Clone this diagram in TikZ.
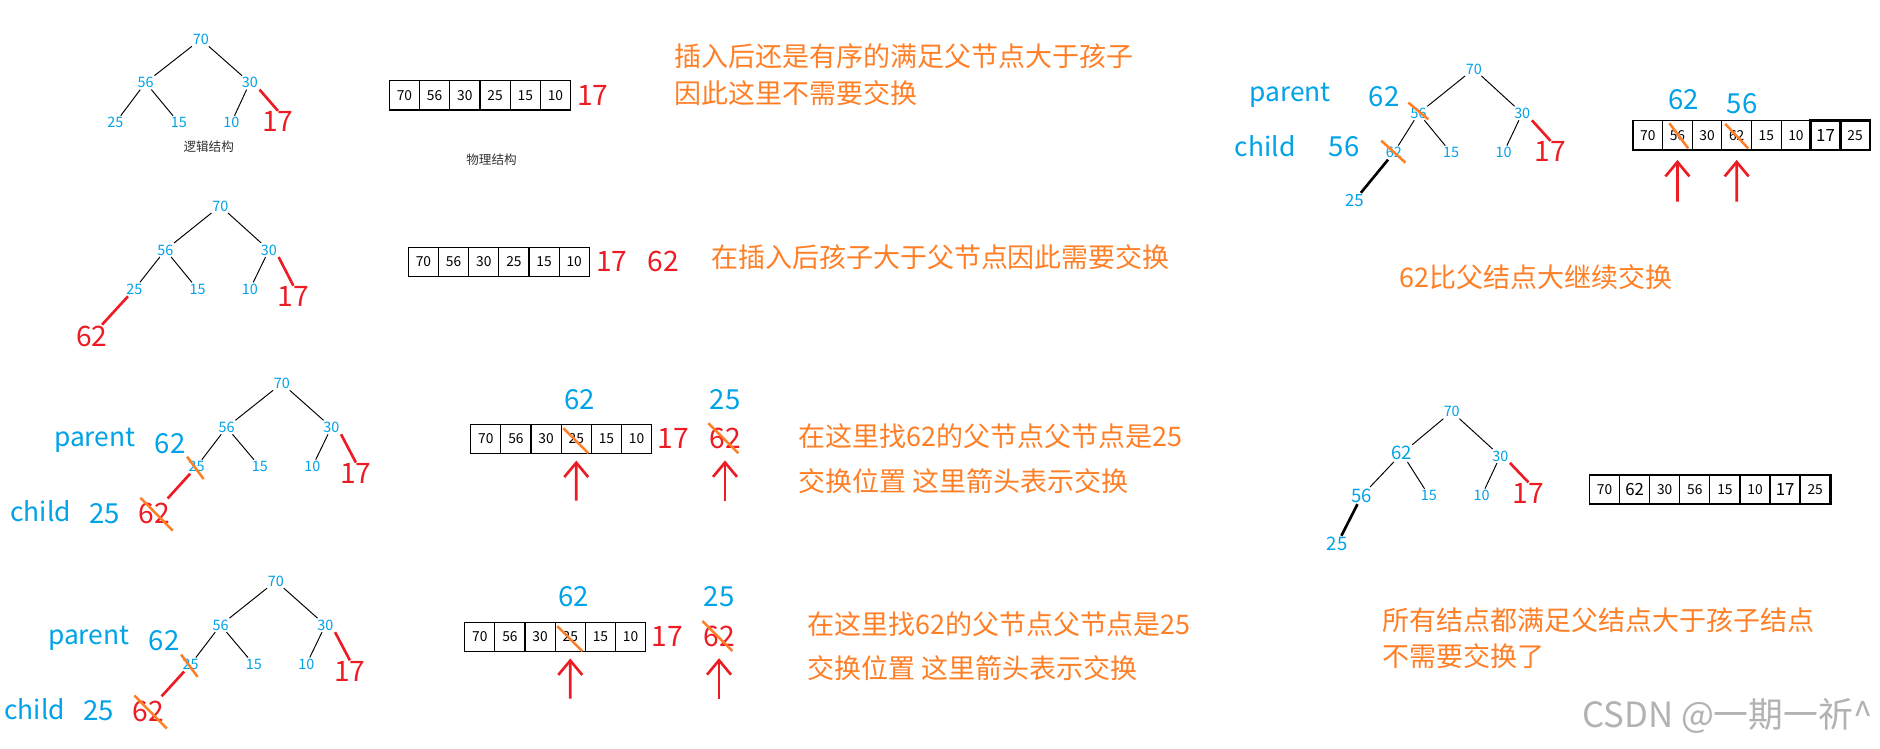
\documentclass[tikz,border=0pt]{standalone}
\usepackage{fontspec}
\setmainfont{Noto Sans CJK SC}
\usetikzlibrary{arrows.meta}
\definecolor{pblue}{HTML}{00A2E8}
\definecolor{pred}{HTML}{ED1C24}
\definecolor{porange}{HTML}{FF7F27}
\newcommand\fsz[1]{\fontsize{#1}{#1}\selectfont}
\newcommand\arrcells[6]{%
  \foreach \v [count=\i] in {#6}
    \node[cell,minimum width=#4pt,minimum height=#5pt] (#1\i) at ({#2+(\i-0.5)*#4},#3) {\v};}
\newcommand\swaprow[1]{%
  \node[tn] (#1a) at (235.1,319.7) {70};
  \node[tn] (#1b) at (189,356.4) {56};
  \node[tn] (#1c) at (276.4,356.4) {30};
  \node[tn] (#1d) at (163.9,389.2) {25};
  \node[tn] (#1e) at (216.7,389.2) {15};
  \node[tn] (#1f) at (260.5,389.2) {10};
  \node[rn] (#1g) at (296.8,394.8) {17};
  \draw[ln] (#1a)--(#1b) (#1a)--(#1c) (#1b)--(#1d) (#1b)--(#1e) (#1c)--(#1f);
  \draw[rln] (#1c.south east)--(#1g.north);
  \node[lab] (#1p) at (79.1,367.4) {parent};
  \node[bignum] (#1q) at (141.8,369.7) {62};
  \node[lab] (#1r) at (34,426.7) {child};
  \node[bignum] (#1s) at (87.4,428.1) {25};
  \node[rn] (#1h) at (128.6,428.1) {62};
  \draw[rln,shorten <=4pt] (#1h)--(#1d);
  \draw[strike] ([shift={(-7.9,-8.3)}]#1d.center)--([shift={(5.9,10.3)}]#1d.center);
  \draw[strike] ([shift={(-11.5,-13)}]#1h.center)--([shift={(15.5,14.5)}]#1h.center);
  \arrcells{#1A}{392.6}{366}{25.15}{24.2}{70,56,30,25,15,10}
  \draw[strike] ([shift={(-10.8,-8.8)}]#1A4.center)--([shift={(10.1,12.1)}]#1A4.center);
  \node[rn] (#1u) at (561.6,365.6) {17};
  \node[rn] (#1t) at (604.7,365.6) {62};
  \draw[strike] ([shift={(-13.9,-12.6)}]#1t.center)--([shift={(11.1,12.4)}]#1t.center);
  \node[bignum] (#1v) at (483.2,333) {62};
  \node[bignum] (#1w) at (604.7,333) {25};
  \coordinate (#1x) at (480.6,417.6);
  \coordinate (#1y) at (604.7,417.6);
  \draw[uparr,shorten >=5.6pt] (#1x)--(#1A4.south);
  \draw[uparr,shorten >=9pt] (#1y)--(#1t.south);
}
\begin{document}
\begin{tikzpicture}[x=1pt,y=-1pt,
  tn/.style={text=pblue,font=\fsz{12},inner sep=1.2pt},
  tnl/.style={text=pblue,font=\fsz{15.5},inner sep=1.2pt},
  rn/.style={text=pred,font=\fsz{23.5},inner sep=0.5pt},
  ln/.style={draw=black,line width=0.8pt},
  rln/.style={draw=pred,line width=2.2pt},
  bln/.style={draw=black,line width=2.2pt},
  cell/.style={draw=black,line width=1pt,inner sep=0pt,font=\fsz{11.5}},
  tcell/.style={draw=black,line width=2.2pt,inner sep=0pt,font=\fsz{11.5}},
  lab/.style={text=pblue,font=\fsz{22},inner sep=0pt},
  bignum/.style={text=pblue,font=\fsz{23},inner sep=0pt},
  note/.style={text=porange,font=\fsz{22.5},anchor=west,inner sep=0pt},
  strike/.style={draw=porange,line width=2.1pt},
  uparr/.style={draw=pred,line width=2.2pt,-{Straight Barb[length=12pt,width=20pt]}},
  capt/.style={text=black!80,font=\fsz{10.5},inner sep=0pt}
]
\fill[white] (0,0) rectangle (1568,624);
\useasboundingbox (0,0) rectangle (1568,624);

% ---------- Row 1 ----------
\node[tn] (a1) at (167.5,32.8) {70};
\node[tn] (a2) at (121.4,68.9) {56};
\node[tn] (a3) at (208.4,68.9) {30};
\node[tn] (a4) at (96.3,102.3) {25};
\node[tn] (a5) at (149.1,102.3) {15};
\node[tn] (a6) at (192.9,102.3) {10};
\node[rn] (a7) at (231.8,101.5) {17};
\draw[ln] (a1)--(a2) (a1)--(a3) (a2)--(a4) (a2)--(a5) (a3)--(a6);
\draw[rln] (a3.south east)--(a7.north);
\node[capt] (a8) at (174.1,122.3) {逻辑结构};
\arrcells{A}{324.7}{79.5}{25.2}{24.4}{70,56,30,25,15,10}
\node[rn] (a9) at (494.3,79.2) {17};
\node[capt] (a10) at (410,132.9) {物理结构};
\node[note] (a11) at (562.6,47.3) {插入后还是有序的满足父节点大于孩子};
\node[note] (a12) at (562.6,77.3) {因此这里不需要交换};

% ---------- Row 2 ----------
\node[tn] (d1) at (183.7,171.8) {70};
\node[tn] (d2) at (137.9,208.5) {56};
\node[tn] (d3) at (224.3,208.5) {30};
\node[tn] (d4) at (112.1,241.3) {25};
\node[tn] (d5) at (164.9,241.3) {15};
\node[tn] (d6) at (208.4,241.3) {10};
\node[rn] (d7) at (244.7,247.4) {17};
\node[rn] (d8) at (76.5,280.2) {62};
\draw[ln] (d1)--(d2) (d1)--(d3) (d2)--(d4) (d2)--(d5) (d3)--(d6);
\draw[rln] (d3.south east)--(d7.north);
\draw[rln] (d4)--(d8);
\arrcells{D}{340.6}{218.5}{25.15}{24.5}{70,56,30,25,15,10}
\node[rn] (d9) at (510.2,218.2) {17};
\node[rn] (d10) at (553.2,218.2) {62};
\node[note] (d11) at (593,214.1) {在插入后孩子大于父节点因此需要交换};

% ---------- Row 3 and Row 4 ----------
\swaprow{r}
\node[note] (rn1) at (666.1,364.2) {在这里找62的父节点父节点是25};
\node[note] (rn2) at (666.1,401.7) {交换位置 这里箭头表示交换};
\begin{scope}[shift={(-5,165)}]
\swaprow{s}
\end{scope}
\node[note] (sn1) at (673.1,520.4) {在这里找62的父节点父节点是25};
\node[note] (sn2) at (673.1,557.4) {交换位置 这里箭头表示交换};

% ---------- Right top ----------
\node[tn] (b1) at (1229.2,57.5) {70};
\node[tn] (b2) at (1183.2,94.5) {56};
\node[tn] (b3) at (1269.6,94.5) {30};
\node[tn] (b4) at (1162.5,127.3) {62};
\node[tn] (b5) at (1210.2,127.3) {15};
\node[tn] (b6) at (1254,127.3) {10};
\node[rn] (b7) at (1293.2,126.5) {17};
\node[tn,font=\fsz{14}] (b8) at (1129.6,167.4) {25};
\draw[ln] (b1)--(b2) (b1)--(b3) (b2)--(b4) (b2)--(b5) (b3)--(b6);
\draw[rln] (b3.south east)--(b7.north);
\draw[bln] (b4)--(b8);
\draw[strike] ([shift={(-8.6,-8.9)}]b2.center)--([shift={(8,5)}]b2.center);
\draw[strike] ([shift={(-10.5,-10)}]b4.center)--([shift={(9.7,8.4)}]b4.center);
\node[lab] (b9) at (1076,79.4) {parent};
\node[bignum] (b10) at (1154.5,80.6) {62};
\node[lab] (b11) at (1055.2,122.3) {child};
\node[bignum] (b12) at (1121,122.3) {56};
\arrcells{B}{1362}{112.85}{24.7}{24.5}{70,56,30,62,15,10}
\node[tcell,minimum width=24.7pt,minimum height=24.5pt,font=\fsz{14}] (B7) at (1522.55,112.85) {17};
\node[tcell,minimum width=24.7pt,minimum height=24.5pt] (B8) at (1547.25,112.85) {25};
\draw[strike] ([shift={(-6.7,-10)}]B2.center)--([shift={(8.9,10.8)}]B2.center);
\draw[strike] ([shift={(-9.5,-9.5)}]B4.center)--([shift={(9.5,10.8)}]B4.center);
\node[bignum] (b13) at (1404.5,83.4) {62};
\node[bignum] (b14) at (1452.9,86.2) {56};
\coordinate (bx) at (1399.05,168.2);
\coordinate (by) at (1448.45,168.2);
\draw[uparr,shorten >=7.8pt] (bx)--(B2.south);
\draw[uparr,shorten >=7.8pt] (by)--(B4.south);
\node[note,anchor=center] (b15) at (1281.1,230.8) {62比父结点大继续交换};

% ---------- Right bottom ----------
\node[tn] (c1) at (1210.8,343.4) {70};
\node[tnl] (c2) at (1169.3,378.1) {62};
\node[tn] (c3) at (1251.3,380.3) {30};
\node[tnl] (c4) at (1135.8,413.4) {56};
\node[tn] (c5) at (1191.8,413.4) {15};
\node[tn] (c6) at (1235.8,413.4) {10};
\node[rn] (c7) at (1274.8,411.4) {17};
\node[tnl] (c8) at (1115.1,454) {25};
\draw[ln] (c1)--(c2) (c1)--(c3) (c2)--(c4) (c2)--(c5) (c3)--(c6);
\draw[rln] (c3.south east)--(c7.north);
\draw[bln] (c4)--(c8);
\arrcells{C}{1325.7}{408.25}{25.1}{24.1}{70,{\fsz{14}62},30,56,15,10}
\node[tcell,minimum width=25.1pt,minimum height=24.1pt,font=\fsz{14}] (C7) at (1488.85,408.25) {17};
\node[tcell,minimum width=25.1pt,minimum height=24.1pt] (C8) at (1513.95,408.25) {25};
\node[note] (c9) at (1153.1,517.1) {所有结点都满足父结点大于孩子结点};
\node[note] (c10) at (1153.1,547.1) {不需要交换了};

\node[font=\fsz{29},text=black!30,anchor=east,inner sep=0pt] (wm) at (1561.8,597) {CSDN @一期一祈\textasciicircum};
\end{tikzpicture}
\end{document}
